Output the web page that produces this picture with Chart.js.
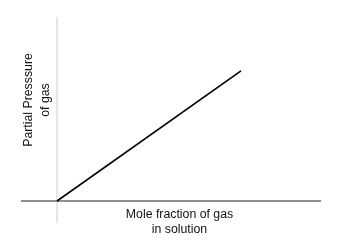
<!DOCTYPE html>
<html lang="en">
<head>
    <meta charset="UTF-8">
    <title>Henry's law</title>
    <script src="https://cdn.jsdelivr.net/npm/chart.js"></script>
    <style>
        body {
            margin: 0;
            background-color: #ffffff;
        }
        #wrap {
            width: 347px;
            height: 246px;
        }
    </style>
</head>
<body>
    <div id="wrap"><canvas id="henryChart" width="347" height="246"></canvas></div>

    <script>
        // Mole fraction (x) against partial pressure (y), arbitrary units
        const moleFraction = [0, 1];
        const partialPressure = [0, 1];

        // Extents of the two axis lines
        const xAxisLine = [-0.196, 1.435];
        const yAxisLine = [-0.169, 1.415];

        const xTitle = ['Mole fraction of gas', 'in solution'];
        const yTitle = ['Partial Presssure', 'of gas'];

        const points = moleFraction.map((x, i) => ({ x: x, y: partialPressure[i] }));

        // Axis titles drawn by hand, like the original
        const titlePlugin = {
            id: 'titles',
            afterDraw(chart) {
                const ctx = chart.ctx;
                ctx.save();
                ctx.fillStyle = '#111111';
                ctx.font = '12.3px "Liberation Sans", Arial, sans-serif';
                ctx.textAlign = 'center';
                ctx.textBaseline = 'middle';
                ctx.fillText(xTitle[0], 179.5, 215);
                ctx.fillText(xTitle[1], 179.5, 230);

                ctx.translate(37.5, 100);
                ctx.rotate(-Math.PI / 2);
                ctx.fillText(yTitle[0], 0, -8.5);
                ctx.fillText(yTitle[1], 0, 8.5);
                ctx.restore();
            }
        };

        new Chart(document.getElementById('henryChart'), {
            type: 'scatter',
            data: {
                datasets: [
                    {
                        data: points,
                        showLine: true,
                        borderColor: '#000000',
                        borderWidth: 1.6,
                        pointRadius: 0
                    },
                    {
                        data: xAxisLine.map(x => ({ x: x, y: 0 })),
                        showLine: true,
                        borderColor: '#6b6b6b',
                        borderWidth: 1.5,
                        pointRadius: 0
                    },
                    {
                        data: yAxisLine.map(y => ({ x: 0, y: y })),
                        showLine: true,
                        borderColor: '#dcdcdc',
                        borderWidth: 1.5,
                        pointRadius: 0
                    }
                ]
            },
            options: {
                responsive: false,
                animation: false,
                layout: {
                    padding: { left: 21, right: 26, top: 17, bottom: 23 }
                },
                plugins: {
                    legend: { display: false },
                    tooltip: { enabled: false }
                },
                scales: {
                    x: { type: 'linear', display: false, min: xAxisLine[0], max: xAxisLine[1] },
                    y: { type: 'linear', display: false, min: yAxisLine[0], max: yAxisLine[1] }
                }
            },
            plugins: [titlePlugin]
        });
    </script>
</body>
</html>
